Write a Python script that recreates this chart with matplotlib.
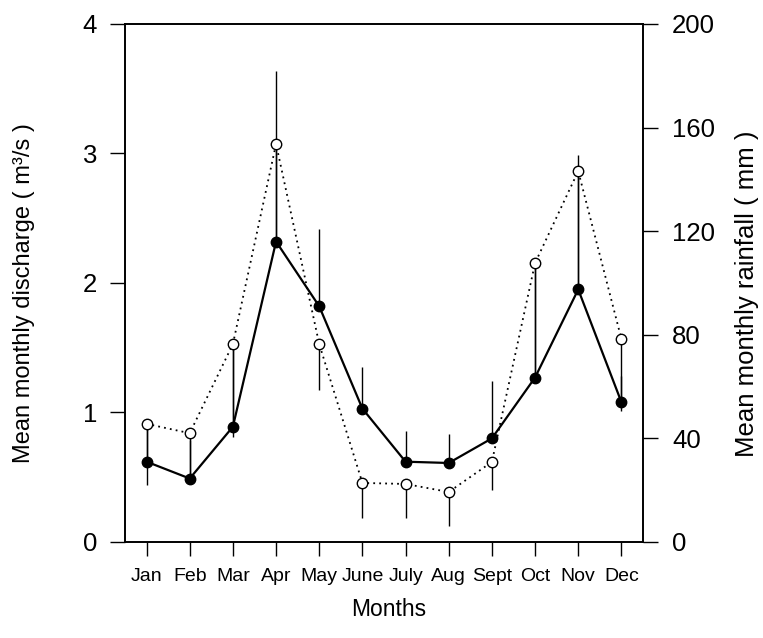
import numpy as np
import matplotlib
matplotlib.use("Agg")
import matplotlib.pyplot as plt

plt.rcParams['font.family'] = ['Liberation Sans', 'DejaVu Sans']

months = ["Jan", "Feb", "Mar", "Apr", "May", "June",
          "July", "Aug", "Sept", "Oct", "Nov", "Dec"]

# mean monthly discharge (m3/s), left axis, with upper error
discharge = [0.62, 0.49, 0.89, 2.32, 1.82, 1.03, 0.62, 0.61, 0.80, 1.27, 1.95, 1.08]
discharge_err = [0.25, 0.30, 0.60, 1.32, 0.60, 0.32, 0.24, 0.22, 0.44, 0.88, 1.04, 0.20]

# mean monthly rainfall (mm), right axis, with lower error
rainfall = [45.6, 42.0, 76.4, 153.7, 76.4, 22.8, 22.4, 19.3, 30.9, 107.7, 143.2, 78.4]
rainfall_err = [23.6, 17.7, 35.9, 38.0, 17.7, 13.5, 13.1, 13.1, 10.8, 44.0, 46.0, 27.8]

x = np.arange(1, len(months) + 1)

fig = plt.figure(figsize=(7.63, 6.38), dpi=100)
ax = fig.add_axes([0.1638, 0.1505, 0.6789, 0.8119])
ax2 = ax.twinx()

# discharge: filled circles, solid line, error bars upward
ax.errorbar(x, discharge, yerr=[np.zeros(len(x)), discharge_err], fmt='none',
            ecolor='black', elinewidth=1, capsize=0, zorder=1)
ax.plot(x, discharge, color='black', linewidth=1.6, marker='o', markersize=7.5,
        markerfacecolor='black', markeredgecolor='black', zorder=3)

# rainfall: open circles, dotted line, error bars downward
ax2.errorbar(x, rainfall, yerr=[rainfall_err, np.zeros(len(x))], fmt='none',
             ecolor='black', elinewidth=1, capsize=0, zorder=1)
ax2.plot(x, rainfall, color='black', linewidth=1.3, linestyle=(0, (1, 2.3)),
         marker='o', markersize=7.5, markerfacecolor='white',
         markeredgecolor='black', markeredgewidth=1, zorder=3)

ax.set_xlim(0.5, 12.5)
ax.set_ylim(0, 4)
ax2.set_ylim(0, 200)

ax.set_xticks(x)
ax.set_xticklabels(months)
ax.set_yticks([0, 1, 2, 3, 4])
ax2.set_yticks([0, 40, 80, 120, 160, 200])

ax.tick_params(axis='x', direction='out', length=10, width=1, labelsize=14, pad=9)
ax.tick_params(axis='y', direction='out', length=11, width=1, labelsize=18.5, pad=9)
ax2.tick_params(axis='y', direction='out', length=11, width=1, labelsize=18.5, pad=10)

for a in (ax, ax2):
    for s in a.spines.values():
        s.set_linewidth(1.2)

ax.set_xlabel("Months", fontsize=16.5)
ax.set_ylabel("Mean monthly discharge ( m³/s )", fontsize=17)
ax2.set_ylabel("Mean monthly rainfall ( mm )", fontsize=18.5)
ax.xaxis.set_label_coords(0.51, -0.108)
ax.yaxis.set_label_coords(-0.173, 0.48)
ax2.yaxis.set_label_coords(1.177, 0.48)

fig.savefig("out.png", dpi=100)
